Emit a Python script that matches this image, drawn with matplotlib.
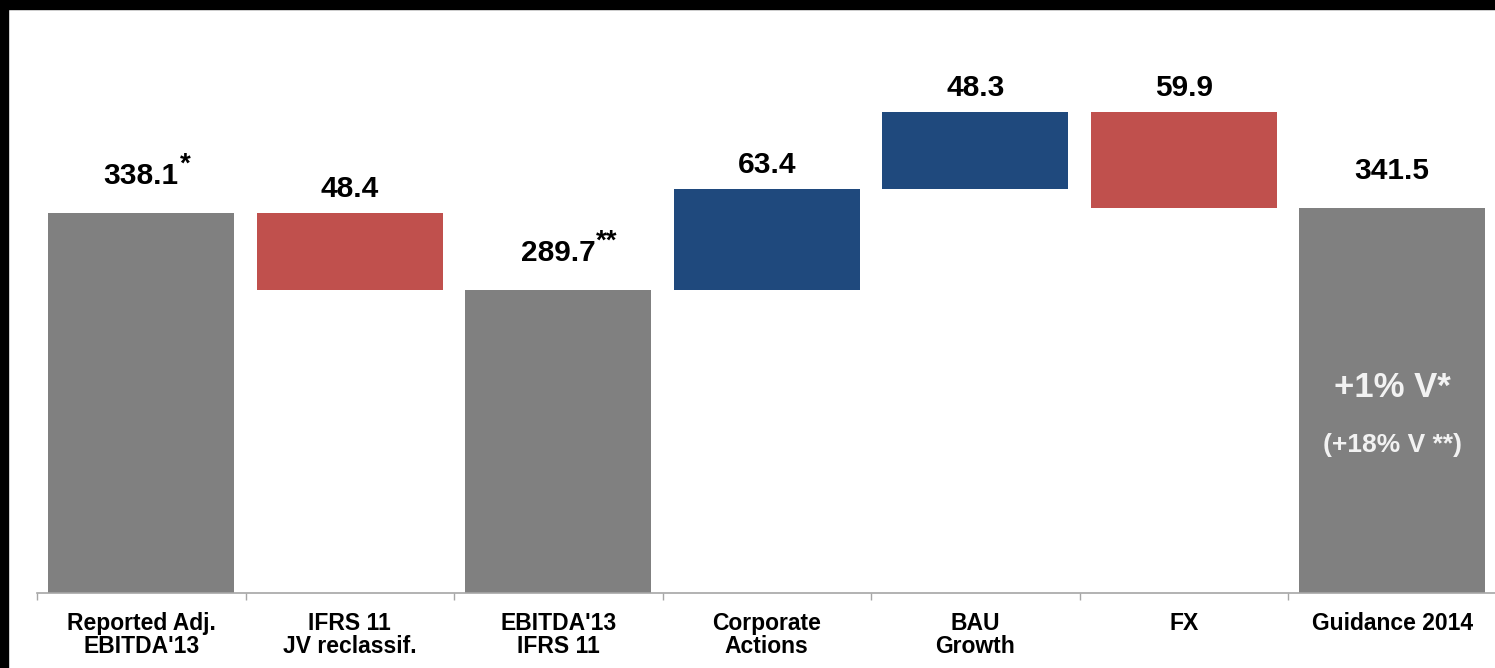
"""EBITDA bridge from reported 2013 figure to 2014 guidance."""

import matplotlib

matplotlib.use("Agg")
import matplotlib.pyplot as plt
from matplotlib.patches import Rectangle

plt.rcParams["font.family"] = ["Liberation Sans", "DejaVu Sans"]
plt.rcParams["font.weight"] = "bold"

categories = [
    "Reported Adj.\nEBITDA'13",
    "IFRS 11\nJV reclassif.",
    "EBITDA'13\nIFRS 11",
    "Corporate\nActions",
    "BAU\nGrowth",
    "FX",
    "Guidance 2014",
]
values = [338.1, -48.4, 289.7, 63.4, 48.3, -59.9, 341.5]
is_total = [True, False, True, False, False, False, True]
footnotes = ["*", "", "**", "", "", "", ""]

GREY = "#808080"
RED = "#C0504D"
BLUE = "#1F497D"

fig = plt.figure(figsize=(14.95, 6.68), dpi=100)
ax = fig.add_axes([37 / 1495, 75 / 668, 1459.5 / 1495, 583 / 668])

# build the waterfall: totals start at zero, steps float on the running level
level = 0.0
for i, (v, tot) in enumerate(zip(values, is_total)):
    if tot:
        bottom, height, color = 0.0, v, GREY
        level = v
        top = v
    else:
        bottom = level if v > 0 else level + v
        height = abs(v)
        color = BLUE if v > 0 else RED
        level += v
        top = bottom + height
    ax.bar(i, height, bottom=bottom, width=0.89, color=color, zorder=2)

    offset = 21 if tot else 12
    num = ax.annotate(
        f"{abs(v):.1f}",
        xy=(i, top),
        xytext=(0, offset),
        textcoords="offset points",
        ha="center",
        va="baseline",
        fontsize=21.5,
        fontweight="bold",
        color="black",
    )
    if footnotes[i]:
        ax.annotate(
            footnotes[i],
            xy=(1, top),
            xycoords=(num, "data"),
            xytext=(0.5, offset + 9),
            textcoords="offset points",
            ha="left",
            va="baseline",
            fontsize=20,
            fontweight="bold",
            color="black",
        )

# growth note inside the guidance bar
ax.text(6, 222.9, "+1% V*", ha="center", va="baseline",
        fontsize=25, fontweight="bold", color="#F2F2F2")
ax.text(6, 188.4, "(+18% V **)", ha="center", va="baseline",
        fontsize=19, fontweight="bold", color="#F2F2F2")

ax.set_xlim(-0.5, len(categories) - 0.5)
ax.set_ylim(100, 100 + 583 / 1.595)

ax.set_xticks(range(len(categories)))
ax.set_xticklabels(categories, fontsize=16.5, fontweight="bold", linespacing=1.0)
ax.set_xticks([i - 0.5 for i in range(len(categories) + 1)], minor=True)
ax.tick_params(axis="x", which="major", length=0, pad=14)
ax.tick_params(axis="x", which="minor", length=5, width=1, color="#A6A6A6",
               direction="out")
ax.set_yticks([])

for side in ("top", "right", "left"):
    ax.spines[side].set_visible(False)
ax.spines["bottom"].set_color("#A6A6A6")
ax.spines["bottom"].set_linewidth(1.2)
ax.spines["bottom"].set_zorder(3)

# dark frame along the top and left edges
fig.add_artist(Rectangle((0, 0), 8 / 1495, 1, transform=fig.transFigure,
                         color="black", zorder=10))
fig.add_artist(Rectangle((0, 1 - 9 / 668), 1, 9 / 668, transform=fig.transFigure,
                         color="black", zorder=10))

fig.savefig("out.png", dpi=100)
